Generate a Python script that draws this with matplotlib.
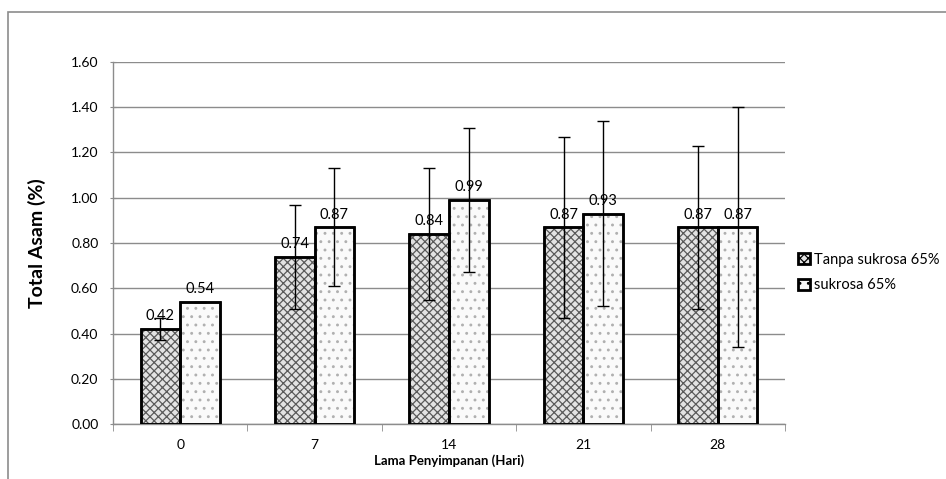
import numpy as np
import matplotlib
matplotlib.use("Agg")
import matplotlib.pyplot as plt
from matplotlib.patches import Rectangle

plt.rcParams["font.family"] = ["Lato", "DejaVu Sans"]
plt.rcParams["hatch.linewidth"] = 0.9

# data
days = ["0", "7", "14", "21", "28"]
tanpa = [0.42, 0.74, 0.84, 0.87, 0.87]
tanpa_err = [0.05, 0.23, 0.29, 0.40, 0.36]
sukrosa = [0.54, 0.87, 0.99, 0.93, 0.87]
sukrosa_err = [0.0, 0.26, 0.32, 0.41, 0.53]
series_names = ["Tanpa sukrosa 65%", "sukrosa 65%"]
yticks = [0.0, 0.2, 0.4, 0.6, 0.8, 1.0, 1.2, 1.4, 1.6]

fig = plt.figure(figsize=(9.46, 4.79), dpi=100)
ax = fig.add_axes([0.1195, 0.1148, 0.7103, 0.7558])

# outer chart frame (Excel style)
fig.add_artist(Rectangle((8 / 946, -0.1), 2.0, 1 - 12 / 479 + 0.1,
                         transform=fig.transFigure, fill=False,
                         edgecolor="#8c8c8c", linewidth=1.2))

x = np.arange(len(days))
w = 0.295
b1 = ax.bar(x - w / 2, tanpa, w, facecolor="#e3e3e3", edgecolor="black",
            linewidth=1.8, hatch="xxxx", zorder=3)
b2 = ax.bar(x + w / 2, sukrosa, w, facecolor="#fafafa", edgecolor="black",
            linewidth=1.8, hatch="..", zorder=3)
for b in b1:
    b._hatch_color = matplotlib.colors.to_rgba("#5a5a5a")
for b in b2:
    b._hatch_color = matplotlib.colors.to_rgba("#b0b0b0")
# redraw black edge on top of hatch colour
ax.bar(x - w / 2, tanpa, w, fill=False, edgecolor="black", linewidth=1.8, zorder=4)
ax.bar(x + w / 2, sukrosa, w, fill=False, edgecolor="black", linewidth=1.8, zorder=4)

ax.errorbar(x - w / 2, tanpa, yerr=tanpa_err, fmt="none", ecolor="black",
            elinewidth=1, capsize=4, capthick=1, zorder=5)
ax.errorbar(x + w / 2, sukrosa, yerr=sukrosa_err, fmt="none", ecolor="black",
            elinewidth=1, capsize=4, capthick=1, zorder=5)

for xi, v in zip(x - w / 2, tanpa):
    ax.text(xi, v + 0.025, f"{v:.2f}", ha="center", va="bottom", fontsize=10.5, zorder=6)
for xi, v in zip(x + w / 2, sukrosa):
    ax.text(xi, v + 0.025, f"{v:.2f}", ha="center", va="bottom", fontsize=10.5, zorder=6)

ax.set_xlim(-0.5, len(days) - 0.5)
ax.set_ylim(0, 1.6)
ax.set_yticks(yticks)
ax.set_yticklabels([f"{t:.2f}" for t in yticks], fontsize=10)
ax.set_xticks(x)
ax.set_xticklabels(days, fontsize=10)
ax.set_xticks(np.arange(-0.5, len(days)), minor=True)
ax.tick_params(axis="x", which="major", length=0, pad=11)
ax.tick_params(axis="x", which="minor", length=5, color="#8c8c8c", direction="out")
ax.tick_params(axis="y", length=5, color="#8c8c8c", direction="inout", pad=8)
ax.grid(axis="y", color="#8c8c8c", linewidth=1, zorder=0)
for s in ["top", "right"]:
    ax.spines[s].set_visible(False)
for s in ["left", "bottom"]:
    ax.spines[s].set_color("#8c8c8c")
    ax.spines[s].set_linewidth(1)

ax.set_ylabel("Total Asam (%)", fontsize=14, fontweight="bold", labelpad=18)
ax.set_xlabel("Lama Penyimpanan (Hari)", fontsize=9.5, fontweight="bold", labelpad=2)

h1 = Rectangle((0, 0), 1, 1, facecolor="#e3e3e3", edgecolor="black", linewidth=2, hatch="xxxx")
h2 = Rectangle((0, 0), 1, 1, facecolor="#fafafa", edgecolor="black", linewidth=2, hatch="..")
fig.legend([h1, h2], series_names, loc="upper left", bbox_to_anchor=(0.830, 0.500),
           frameon=False, fontsize=10.5, handlelength=0.8, handleheight=0.8,
           handletextpad=0.3, labelspacing=0.8)

fig.savefig("out.png", dpi=100, facecolor="white")
